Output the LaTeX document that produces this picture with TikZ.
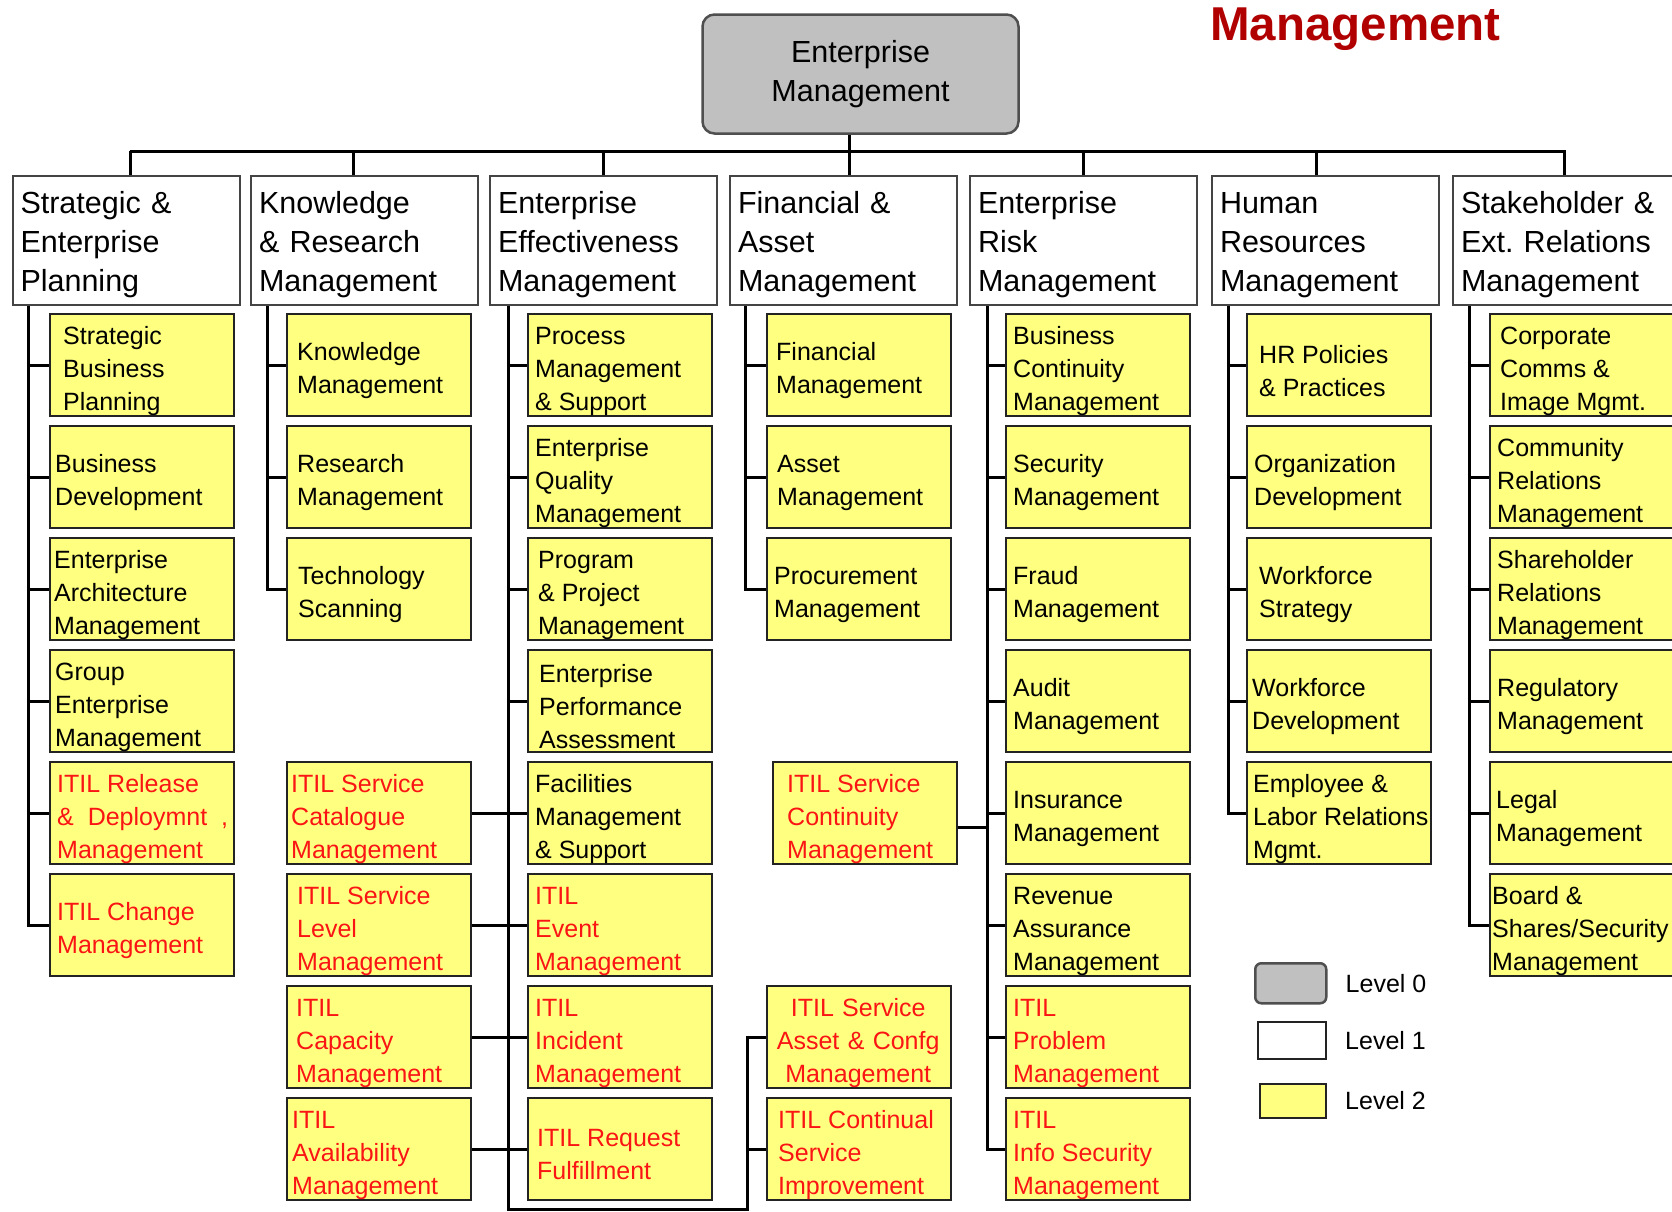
\documentclass[tikz,border=0pt]{standalone}
\usepackage{fontspec}
\setmainfont{Liberation Sans}
\usetikzlibrary{positioning}
\definecolor{boxyellow}{RGB}{255,255,128}
\definecolor{boxgray}{RGB}{192,192,192}
\definecolor{itilred}{RGB}{250,20,20}
\definecolor{titlered}{RGB}{176,0,0}
\definecolor{boxframe}{RGB}{35,35,35}
\newcommand{\lvlfont}{\fontsize{30.5pt}{39pt}\selectfont}
\newcommand{\subfont}{\fontsize{25pt}{33pt}\selectfont}
\tikzset{
	link/.style={line width=3pt},
	lvlzero/.style={draw=boxframe!80, line width=2.5pt, fill=boxgray, rounded corners=12pt, align=center, font=\lvlfont},
	lvlone/.style={draw=boxframe!85, line width=2pt, fill=white, anchor=north west, minimum width=227pt, minimum height=129pt, inner xsep=8pt, inner ysep=0pt, text width=211pt, align=left, font=\lvlfont, execute at begin node={\rule{0pt}{30pt}}},
	lvltwo/.style={draw=boxframe, line width=2pt, fill=boxyellow, anchor=north west, minimum width=184pt, minimum height=102pt, inner sep=0pt},
	sublabel/.style={anchor=west, inner sep=0pt, xshift=8pt, yshift=-6pt, align=left, font=\subfont},
	itil/.style={text=itilred},
	keylabel/.style={inner sep=0pt, font=\subfont},
}
\newcommand{\lvlbox}[4][]{%
	\node[lvltwo] (#2) at (#3) {};
	\node[sublabel,#1] (#2-t) at (#2.west) {#4};
}
\begin{document}
\begin{tikzpicture}[x=1pt,y=-1pt]
		\useasboundingbox (0,0) rectangle (1672,1211);
		\node[anchor=base west, inner sep=0pt, font=\fontsize{47.5pt}{50pt}\selectfont\bfseries, text=titlered] (title) at (1210,40) {Management};
		%Level 0
		\node[lvlzero, minimum width=316pt, minimum height=119pt] (top) at (860.5,74) {Enterprise\\Management};
		%Level 1
		\node[lvlone] (L1) at (11.5,175) {Strategic \&\\Enterprise\\Planning};
		\node[lvlone] (L2) at (250,175) {Knowledge\\\& Research\\Management};
		\node[lvlone] (L3) at (489,175) {Enterprise\\Effectiveness\\Management};
		\node[lvlone] (L4) at (729,175) {Financial \&\\Asset\\Management};
		\node[lvlone] (L5) at (969,175) {Enterprise\\Risk\\Management};
		\node[lvlone] (L6) at (1211,175) {Human\\Resources\\Management};
		\node[lvlone] (L7) at (1452,175) {Stakeholder \&\\Ext.\ Relations\\Management};
		%Level 2
		\lvlbox[xshift=6pt]{a1}{49,313}{Strategic\\Business\\Planning}
		\lvlbox[xshift=-2pt]{a2}{49,425}{Business\\Development}
		\lvlbox[xshift=-3pt]{a3}{49,537}{Enterprise\\Architecture\\Management}
		\lvlbox[xshift=-2pt]{a4}{49,649}{Group\\Enterprise\\Management}
		\lvlbox[itil]{a5}{49,761}{ITIL Release\\\&\ \ Deploymnt\hspace{14pt},\\Management}
		\lvlbox[itil]{a6}{49,873}{ITIL Change\\Management}
		\lvlbox[xshift=3pt]{b1}{286,313}{Knowledge\\Management}
		\lvlbox[xshift=3pt]{b2}{286,425}{Research\\Management}
		\lvlbox[xshift=4pt]{b3}{286,537}{Technology\\Scanning}
		\lvlbox[itil,xshift=-3pt]{b4}{286,761}{ITIL Service\\Catalogue\\Management}
		\lvlbox[itil,xshift=3pt]{b5}{286,873}{ITIL Service\\Level\\Management}
		\lvlbox[itil,xshift=2pt]{b6}{286,985}{ITIL\\Capacity\\Management}
		\lvlbox[itil,xshift=-2pt]{b7}{286,1097}{ITIL\\Availability\\Management}
		\lvlbox{c1}{527,313}{Process\\Management\\\& Support}
		\lvlbox{c2}{527,425}{Enterprise\\Quality\\Management}
		\lvlbox[xshift=3pt]{c3}{527,537}{Program\\\& Project\\Management}
		\lvlbox[xshift=4pt]{c4}{527,649}{Enterprise\\Performance\\Assessment}
		\lvlbox{c5}{527,761}{Facilities\\Management\\\& Support}
		\lvlbox[itil]{c6}{527,873}{ITIL\\Event\\Management}
		\lvlbox[itil]{c7}{527,985}{ITIL\\Incident\\Management}
		\lvlbox[itil,xshift=2pt]{c8}{527,1097}{ITIL Request\\Fulfillment}
		\lvlbox[xshift=2pt]{d1}{766,313}{Financial\\Management}
		\lvlbox[xshift=3pt]{d2}{766,425}{Asset\\Management}
		\lvlbox{d3}{766,537}{Procurement\\Management}
		\lvlbox[itil,xshift=7pt]{d4}{772,761}{ITIL Service\\Continuity\\Management}
		\lvlbox[itil,text width=168pt,align=center]{d5}{766,985}{ITIL Service\\Asset \& Confg\\Management}
		\lvlbox[itil,xshift=4pt]{d6}{766,1097}{ITIL Continual\\Service\\Improvement}
		\lvlbox{e1}{1005,313}{Business\\Continuity\\Management}
		\lvlbox{e2}{1005,425}{Security\\Management}
		\lvlbox{e3}{1005,537}{Fraud\\Management}
		\lvlbox{e4}{1005,649}{Audit\\Management}
		\lvlbox{e5}{1005,761}{Insurance\\Management}
		\lvlbox{e6}{1005,873}{Revenue\\Assurance\\Management}
		\lvlbox[itil]{e7}{1005,985}{ITIL\\Problem\\Management}
		\lvlbox[itil]{e8}{1005,1097}{ITIL\\Info Security\\Management}
		\lvlbox[xshift=5pt]{f1}{1246,313}{HR Policies\\\& Practices}
		\lvlbox{f2}{1246,425}{Organization\\Development}
		\lvlbox[xshift=5pt]{f3}{1246,537}{Workforce\\Strategy}
		\lvlbox[xshift=-2pt]{f4}{1246,649}{Workforce\\Development}
		\lvlbox[xshift=-1pt]{f5}{1246,761}{Employee \&\\Labor Relations\\Mgmt.}
		\lvlbox[xshift=3pt]{g1}{1489,313}{Corporate\\Comms \&\\Image Mgmt.}
		\lvlbox{g2}{1489,425}{Community\\Relations\\Management}
		\lvlbox{g3}{1489,537}{Shareholder\\Relations\\Management}
		\lvlbox{g4}{1489,649}{Regulatory\\Management}
		\lvlbox[xshift=-1pt]{g5}{1489,761}{Legal\\Management}
		\lvlbox[xshift=-5pt]{g6}{1489,873}{Board \&\\Shares/Security\\Management}
		%Bus
		\coordinate (busL) at (129.5,151);
		\coordinate (busR) at (1566,151);
		\draw[link] (busL) -- (busR);
		\coordinate (stem) at ([xshift=-11pt]top.south);
		\draw[link] (stem) -- (stem |- busL);
		\foreach \n/\dx in {1/4,2/-11,3/0,4/6,5/0,6/-9,7/-2}{
			\coordinate (drop) at ([xshift=\dx pt]L\n.north);
			\draw[link] (drop) -- (drop |- busL);
		}
		%Spines
		\foreach \i in {1,...,6} \draw[link] ([xshift=17pt]L1.south west) |- (a\i.west);
		\foreach \i in {1,...,3} \draw[link] ([xshift=17pt]L2.south west) |- (b\i.west);
		\coordinate (ctop) at ([xshift=19pt]L3.south west);
		\coordinate (cfoot) at (ctop |- 0,1209);
		\coordinate (dbar) at ([xshift=-19pt]d5.west);
		\draw[link] (ctop) -- (cfoot) -| (dbar) -- (d5.west);
		\draw[link] (dbar) |- (d6.west);
		\foreach \i in {1,...,8} \draw[link] (ctop) |- (c\i.west);
		\foreach \i in {4,...,7} \draw[link] (b\i.east) -- (b\i.east -| ctop);
		\foreach \i in {1,...,3} \draw[link] ([xshift=16pt]L4.south west) |- (d\i.west);
		\coordinate (etop) at ([xshift=18pt]L5.south west);
		\foreach \i in {1,...,8} \draw[link] (etop) |- (e\i.west);
		\coordinate (dcont) at ([yshift=-14pt]d4.east);
		\draw[link] (dcont) -- (dcont -| etop);
		\foreach \i in {1,...,5} \draw[link] ([xshift=17pt]L6.south west) |- (f\i.west);
		\foreach \i in {1,...,6} \draw[link] ([xshift=17pt]L7.south west) |- (g\i.west);
		%Legend
		\node[lvlzero, rounded corners=6pt, minimum width=71pt, minimum height=40pt, anchor=north west] (key0) at (1254,962) {};
		\node[keylabel, right=18pt of key0] (key0-t) {Level 0};
		\node[draw=boxframe, line width=2pt, fill=white, minimum width=68pt, minimum height=37pt, anchor=north west] (key1) at (1257,1021) {};
		\node[keylabel, right=18pt of key1] (key1-t) {Level 1};
		\node[draw=boxframe, line width=2pt, fill=boxyellow, minimum width=66.5pt, minimum height=34pt, anchor=north west] (key2) at (1258.5,1083) {};
		\node[keylabel, right=18pt of key2] (key2-t) {Level 2};
\end{tikzpicture}
\end{document}
